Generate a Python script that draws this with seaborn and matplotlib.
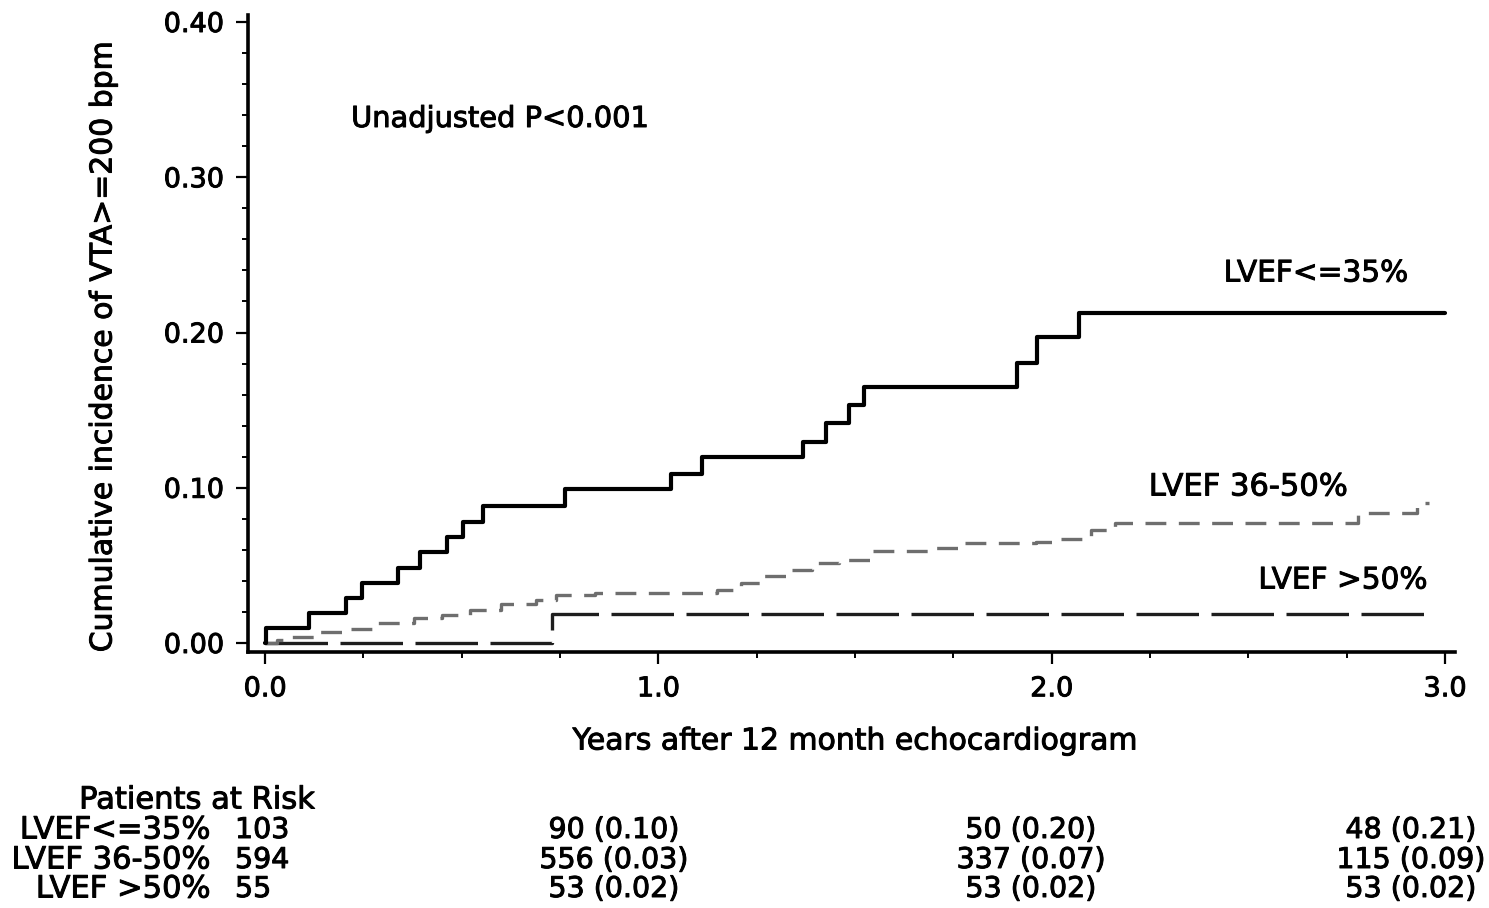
import numpy as np
import pandas as pd
import matplotlib
matplotlib.use("Agg")
import matplotlib.pyplot as plt
import matplotlib.patheffects as pe
import seaborn as sns

# ---------------- data ----------------
group_names = ["LVEF<=35%", "LVEF 36-50%", "LVEF >50%"]

# step times (years) and cumulative incidence after each step (last point = end of follow-up)
t_low = [0.0, 0.003, 0.113, 0.206, 0.247, 0.337, 0.394, 0.462, 0.503, 0.555, 0.763,
         1.031, 1.110, 1.367, 1.426, 1.485, 1.523, 1.911, 1.962, 2.070, 3.0]
v_low = [0.0, 0.0097, 0.0194, 0.0291, 0.0388, 0.0485, 0.0583, 0.068, 0.0777, 0.088, 0.099,
         0.109, 0.1196, 0.1297, 0.1419, 0.1533, 0.165, 0.1805, 0.1969, 0.2124, 0.2124]

t_mid = [0.0, 0.03, 0.06, 0.13, 0.21, 0.28, 0.38, 0.45, 0.52, 0.60, 0.69, 0.74, 0.84,
         0.90, 1.15, 1.19, 1.21, 1.26, 1.33, 1.39, 1.46, 1.54, 1.69, 1.77, 1.96, 2.02,
         2.10, 2.16, 2.78, 2.93, 2.96]
v_mid = [0.0, 0.002, 0.004, 0.007, 0.009, 0.013, 0.016, 0.018, 0.021, 0.025, 0.028, 0.031,
         0.032, 0.0324, 0.034, 0.037, 0.0385, 0.043, 0.047, 0.0515, 0.0535, 0.059, 0.0614,
         0.0646, 0.0653, 0.067, 0.073, 0.077, 0.0835, 0.090, 0.090]

t_high = [0.0, 0.73, 2.97]
v_high = [0.0, 0.0185, 0.0185]

# patients at risk table
risk_times = [0, 1, 2, 3]
risk_n = [[103, 90, 50, 48],
          [594, 556, 337, 115],
          [55, 53, 53, 53]]
risk_ci = [[None, 0.10, 0.20, 0.21],
           [None, 0.03, 0.07, 0.09],
           [None, 0.02, 0.02, 0.02]]

x_ticks = [0.0, 1.0, 2.0, 3.0]
y_ticks = [0.00, 0.10, 0.20, 0.30, 0.40]

# ---------------- style ----------------
sns.set_style("ticks")
plt.rcParams["font.family"] = ["DejaVu Sans"]
plt.rcParams["lines.scale_dashes"] = False
plt.rcParams["text.color"] = "black"
plt.rcParams["axes.labelcolor"] = "black"
plt.rcParams["xtick.color"] = "black"
plt.rcParams["ytick.color"] = "black"

heavy = [pe.withStroke(linewidth=0.7, foreground="black")]

W, H = 1489, 908
fig = plt.figure(figsize=(W / 100, H / 100), dpi=100)

def fx(px):
    return px / W

def fy(py):
    return 1 - py / H

ax = fig.add_axes([fx(248), fy(652), fx(1455) - fx(248), fy(15) - fy(652)])

df_low = pd.DataFrame({"t": t_low, "v": v_low})
df_mid = pd.DataFrame({"t": t_mid, "v": v_mid})
df_high = pd.DataFrame({"t": t_high, "v": v_high})

sns.lineplot(data=df_high, x="t", y="v", ax=ax, estimator=None, sort=False,
             drawstyle="steps-post", color="#1e1e1e", linewidth=2.4,
             linestyle=(0, (45, 9)))
sns.lineplot(data=df_mid, x="t", y="v", ax=ax, estimator=None, sort=False,
             drawstyle="steps-post", color="#6e6e6e", linewidth=2.4,
             linestyle=(0, (15, 9)))
sns.lineplot(data=df_low, x="t", y="v", ax=ax, estimator=None, sort=False,
             drawstyle="steps-post", color="black", linewidth=3.0)

x_lo = -17 / 393.3
x_hi = 3 + 10 / 393.3
ax.set_xlim(x_lo, x_hi)
ax.set_ylim((643 - 652) / 1552.5, (643 - 15) / 1552.5)

ax.set_xticks(x_ticks)
ax.set_xticklabels([f"{v:.1f}" for v in x_ticks])
ax.set_xticks(np.arange(0, 3.01, 0.25), minor=True)
ax.set_yticks(y_ticks)
ax.set_yticklabels([f"{v:.2f}" for v in y_ticks])
ax.set_yticks(np.arange(0, 0.401, 0.02), minor=True)

ax.tick_params(axis="both", which="major", direction="out", length=8.5, width=1.6,
               labelsize=19.5, pad=9, color="black", labelcolor="black")
ax.tick_params(axis="both", which="minor", direction="out", length=4.5, width=1.4,
               color="black")
for lab in ax.get_xticklabels() + ax.get_yticklabels():
    lab.set_path_effects(heavy)

for s in ["top", "right"]:
    ax.spines[s].set_visible(False)
for s in ["left", "bottom"]:
    ax.spines[s].set_linewidth(2.6)
    ax.spines[s].set_color("black")

ax.set_xlabel("Years after 12 month echocardiogram", fontsize=21.5, color="black",
              path_effects=heavy)
ax.set_ylabel("Cumulative incidence of VTA>=200 bpm", fontsize=21.5, color="black",
              path_effects=heavy)
ax.xaxis.label.set_va("center")
ax.yaxis.label.set_va("center")
ax.xaxis.set_label_coords((855 - 248) / (1455 - 248), (652 - 741) / (652 - 15))
ax.yaxis.set_label_coords((103 - 248) / (1455 - 248), (652 - 347) / (652 - 15))

# annotations
ax.text((500 - 265) / 393.3, (643 - 119) / 1552.5, "Unadjusted P<0.001",
        fontsize=20.8, ha="center", va="center", path_effects=heavy)
ax.text((1316 - 265) / 393.3, (643 - 273) / 1552.5, group_names[0],
        fontsize=21.3, ha="center", va="center", path_effects=heavy)
ax.text((1248 - 265) / 393.3, (643 - 487) / 1552.5, group_names[1],
        fontsize=22, ha="center", va="center", path_effects=heavy)
ax.text((1343 - 265) / 393.3, (643 - 580) / 1552.5, group_names[2],
        fontsize=21.3, ha="center", va="center", path_effects=heavy)

# patients at risk table
fs_lab = 22
fs_num = 20.5
fig.text(fx(197), fy(800), "Patients at Risk", fontsize=fs_lab, ha="center", va="center",
         path_effects=heavy)
row_y = [830, 860, 889]
col_x = [235, 614, 1031, 1411]
for i, name in enumerate(group_names):
    fig.text(fx(210), fy(row_y[i]), name, fontsize=fs_lab, ha="right", va="center",
             path_effects=heavy)
    for j, t in enumerate(risk_times):
        n = risk_n[i][j]
        ci = risk_ci[i][j]
        if ci is None:
            fig.text(fx(col_x[j]), fy(row_y[i]), f"{n}", fontsize=fs_num,
                     ha="left", va="center", path_effects=heavy)
        else:
            fig.text(fx(col_x[j]), fy(row_y[i]), f"{n} ({ci:.2f})", fontsize=fs_num,
                     ha="center", va="center", path_effects=heavy)

fig.savefig("out.png", dpi=100, facecolor="white")
